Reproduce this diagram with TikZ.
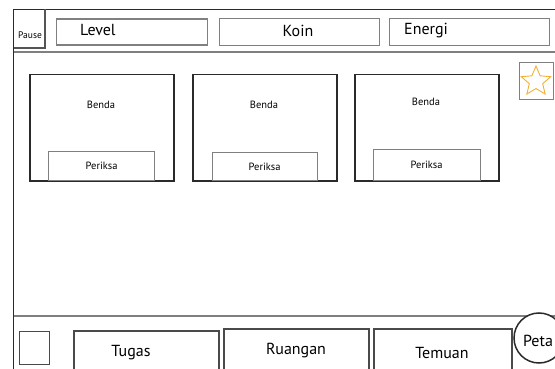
\documentclass[tikz,border=0pt]{standalone}
\usepackage{fontspec}
\setmainfont{PT Sans}
\usetikzlibrary{shapes.geometric}
\definecolor{ink}{HTML}{2A2A2A}
\definecolor{soft}{HTML}{808080}
\definecolor{gold}{HTML}{F2B134}
\begin{document}
\begin{tikzpicture}[x=1pt,y=-1pt,
  frame/.style={draw=ink,line width=1.6pt},
  divider/.style={draw=soft,line width=1.4pt},
  topbox/.style={draw=soft,line width=1.4pt},
  itembox/.style={draw=ink,line width=1.5pt},
  navbox/.style={draw=ink!85,line width=1.5pt},
  lbl/.style={font=\fontsize{16}{16}\selectfont,text=black},
  small/.style={font=\fontsize{10.5}{10.5}\selectfont,text=black}]
\useasboundingbox (0,0) rectangle (555,369);
\begin{scope}
\clip (0,0) rectangle (555,369);
% outer frame: top edge and left edge
\draw[frame] (555,9.5) -- (13.5,9.5) -- (13.5,375);
% header and footer dividers
\draw[divider] (13.5,52) -- (560,52);
\draw[divider] (13.5,316) -- (560,316);
% pause button
\draw[draw=ink!80,line width=1.3pt] (13.5,48) -- (45,48) -- (45,9.5);
\node[font=\fontsize{9.5}{9.5}\selectfont,inner sep=0pt] (pause) at (30,35.5) {Pause};
% header fields
\node[topbox,minimum width=151pt,minimum height=26pt,anchor=north west] (level) at (56,18.5) {};
\node[lbl,anchor=west,inner sep=0pt] at (80,30) {Level};
\node[topbox,minimum width=160pt,minimum height=27pt,anchor=north west] (koin) at (219,18) {};
\node[lbl] at (298,31) {Koin};
\node[topbox,minimum width=160pt,minimum height=27pt,anchor=north west] (energi) at (389,18) {};
\node[lbl,anchor=west,inner sep=0pt] at (404,31) {Energi};
% favourite star
\node[topbox,minimum width=34pt,minimum height=37pt,anchor=north west] (fav) at (519,62) {};
\node[star,star points=5,star point ratio=2.2,minimum size=31pt,inner sep=0pt,draw=gold,line width=0.9pt] (star) at (536,81.5) {};
% item cards: name / left x / title y / panel left x / panel top y / panel width / panel height
\foreach \n/\x/\by/\px/\py/\pw/\ph in {a/29/105/48/151/106/29, b/192/105/211.5/152/105/28, c/354/102/372.5/149/107/31}{
  \node[itembox,minimum width=144pt,minimum height=106pt,anchor=north west] (card\n) at (\x,74) {};
  \node[small] (benda\n) at ({\x+72},\by) {Benda};
  \node[draw=soft,line width=1.3pt,minimum width=\pw pt,minimum height=\ph pt,anchor=north west] (periksa\n) at (\px,\py) {};
  \node[small] at (periksa\n.center) {Periksa};
  \draw[itembox] (card\n.south west) -- (card\n.south east);
}
% footer controls
\node[draw=ink!85,line width=1.4pt,minimum width=30pt,minimum height=33pt,anchor=north west] (tick) at (19,331) {};
\node[navbox,minimum width=145pt,minimum height=50pt,anchor=north west] (tugas) at (73,330) {};
\node[lbl] at (131,353) {Tugas};
\node[navbox,minimum width=145pt,minimum height=50pt,anchor=north west] (ruangan) at (223,328) {};
\node[lbl] at (296,351) {Ruangan};
\node[navbox,minimum width=138pt,minimum height=50pt,anchor=north west] (temuan) at (373,328) {};
\node[lbl] at (442,353) {Temuan};
\node[circle,draw=ink,line width=1.5pt,fill=white,minimum size=50pt,inner sep=0pt] (peta) at (539,338) {};
\node[lbl] at (538,341) {Peta};
\end{scope}
\end{tikzpicture}
\end{document}
